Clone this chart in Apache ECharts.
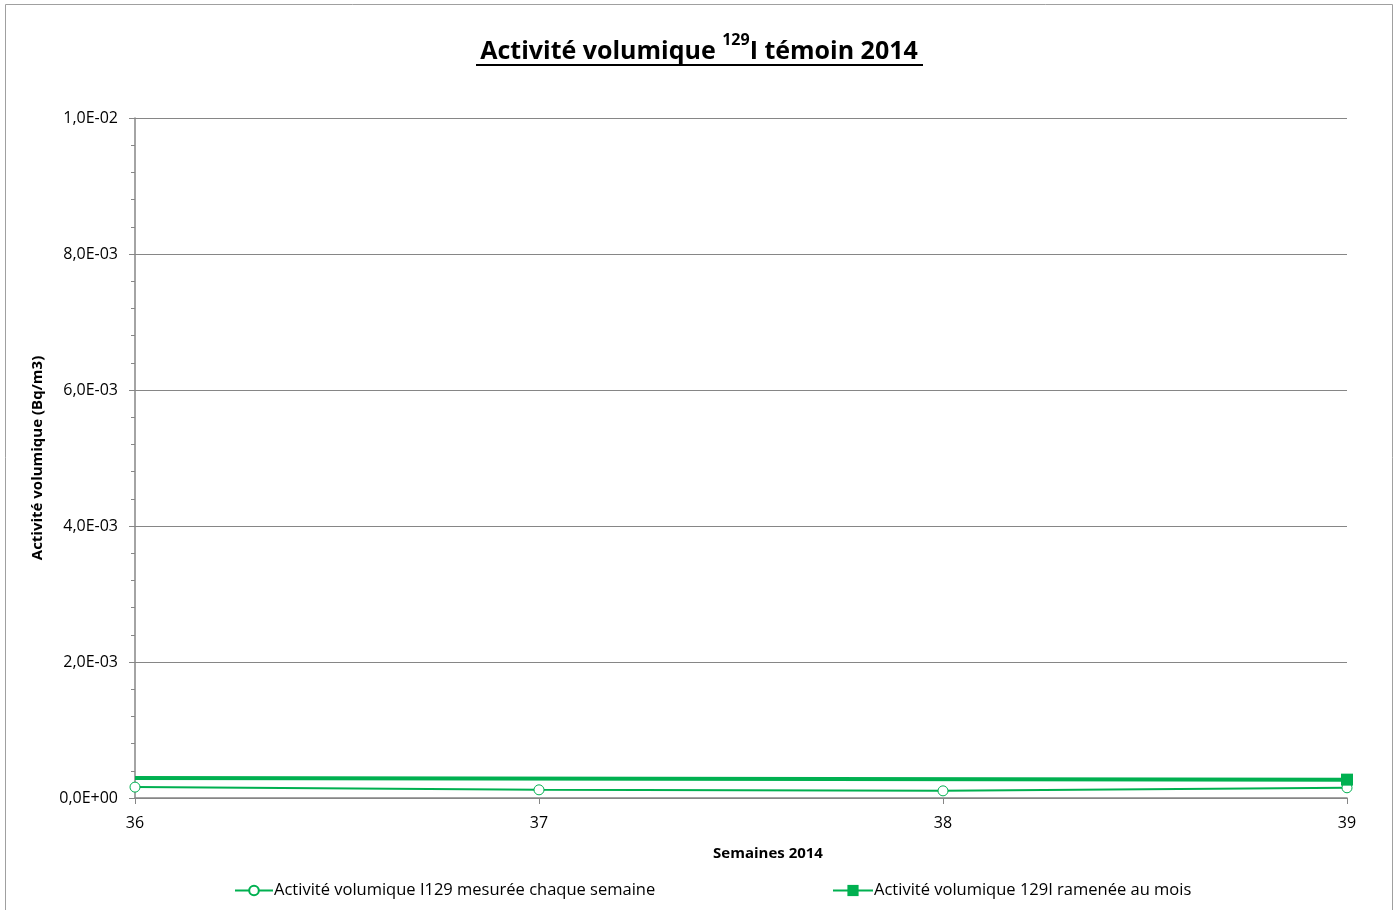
<!DOCTYPE html>
<html><head><meta charset="utf-8">
<script src="https://cdn.jsdelivr.net/npm/echarts@6/dist/echarts.min.js"></script>
<style>html,body{margin:0;padding:0;background:#fff}#c{width:1398px;height:910px}</style>
</head><body><div id="c"></div>
<script>
const weeks = [36, 37, 38, 39];
const weeklyValues = [1.6e-4, 1.2e-4, 1.05e-4, 1.5e-4];
const monthlyWeeks = [36, 39];
const monthlyValues = [2.95e-4, 2.7e-4];
const yTicks = [0, 2e-3, 4e-3, 6e-3, 8e-3, 1e-2];
const yTickLabels = ['0,0E+00', '2,0E-03', '4,0E-03', '6,0E-03', '8,0E-03', '1,0E-02'];

const FONT = '"Open Sans", "Liberation Sans", sans-serif';
const GREEN = '#00B050';
const AXIS = '#868686';

const chart = echarts.init(document.getElementById('c'), null, {renderer: 'canvas'});
function fmtY(v) {
  const i = yTicks.findIndex(t => Math.abs(t - v) < 1e-9);
  return i >= 0 ? yTickLabels[i] : '';
}
chart.setOption({
  animation: false,
  backgroundColor: '#fff',
  title: {
    text: '{b|Activité volumique }{s|129}{b|I témoin 2014}',
    left: 'center', top: 27,
    textStyle: {
      rich: {
        b: {fontFamily: FONT, fontWeight: 'bold', fontSize: 25, color: '#000', verticalAlign: 'bottom', lineHeight: 32},
        s: {fontFamily: FONT, fontWeight: 'bold', fontSize: 16, color: '#000', verticalAlign: 'top', lineHeight: 32, padding: [0, 0, 2, 0]}
      }
    }
  },
  graphic: [
    {type: 'rect', shape: {x: 5.5, y: 4.5, width: 1387, height: 910}, style: {fill: 'none', stroke: '#a0a0a0', lineWidth: 1}, silent: true},
    {type: 'line', shape: {x1: 476, y1: 65, x2: 923, y2: 65}, style: {stroke: '#000', lineWidth: 2}, silent: true}
  ],
  grid: {left: 135, right: 51, top: 118, bottom: 112, containLabel: false},
  legend: [
    {
      data: ['Activité volumique I129 mesurée chaque semaine'],
      left: 229, top: 877, itemWidth: 38, itemHeight: 12,
      textStyle: {fontFamily: FONT, fontSize: 16.5, color: '#000', padding: [0, 0, 0, -4]}
    },
    {
      data: ['Activité volumique 129I ramenée au mois'],
      left: 827, top: 877, itemWidth: 40, itemHeight: 14,
      textStyle: {fontFamily: FONT, fontSize: 16.5, color: '#000', padding: [0, 0, 0, -4]}
    }
  ],
  xAxis: {
    type: 'value', min: 36, max: 39, interval: 1,
    name: 'Semaines 2014', nameLocation: 'middle', nameGap: 48,
    nameTextStyle: {fontFamily: FONT, fontWeight: 'bold', fontSize: 15, color: '#000', padding: [0, 0, 0, 54]},
    axisLine: {lineStyle: {color: AXIS, width: 1.5}},
    axisTick: {show: true, length: 6, lineStyle: {color: AXIS}},
    axisLabel: {fontFamily: FONT, fontSize: 16, color: '#000', margin: 17},
    splitLine: {show: false}
  },
  yAxis: {
    type: 'value', min: 0, max: 0.01, interval: 0.002,
    name: 'Activité volumique (Bq/m3)', nameLocation: 'middle', nameGap: 90, nameRotate: 90,
    nameTextStyle: {fontFamily: FONT, fontWeight: 'bold', fontSize: 15, color: '#000'},
    axisLine: {show: true, lineStyle: {color: AXIS, width: 1.5}},
    axisTick: {show: true, length: 6, lineStyle: {color: AXIS}},
    minorTick: {show: true, splitNumber: 5, length: 4, lineStyle: {color: AXIS}},
    axisLabel: {fontFamily: FONT, fontSize: 16, color: '#000', margin: 17, formatter: fmtY},
    splitLine: {show: true, lineStyle: {color: AXIS, width: 1}}
  },
  series: [
    {
      name: 'Activité volumique I129 mesurée chaque semaine',
      type: 'line',
      data: weeks.map((w, i) => [w, weeklyValues[i]]),
      symbol: 'circle', symbolSize: 10, showAllSymbol: true,
      itemStyle: {color: '#fff', borderColor: GREEN, borderWidth: 1},
      lineStyle: {color: GREEN, width: 2},
      z: 3
    },
    {
      name: 'Activité volumique 129I ramenée au mois',
      type: 'line',
      data: monthlyWeeks.map((w, i) => ({
        value: [w, monthlyValues[i]],
        symbol: i === monthlyWeeks.length - 1 ? 'rect' : 'none'
      })),
      symbol: 'rect', symbolSize: 12, showAllSymbol: true,
      itemStyle: {color: GREEN},
      lineStyle: {color: GREEN, width: 4},
      z: 4
    }
  ]
});
</script></body></html>
